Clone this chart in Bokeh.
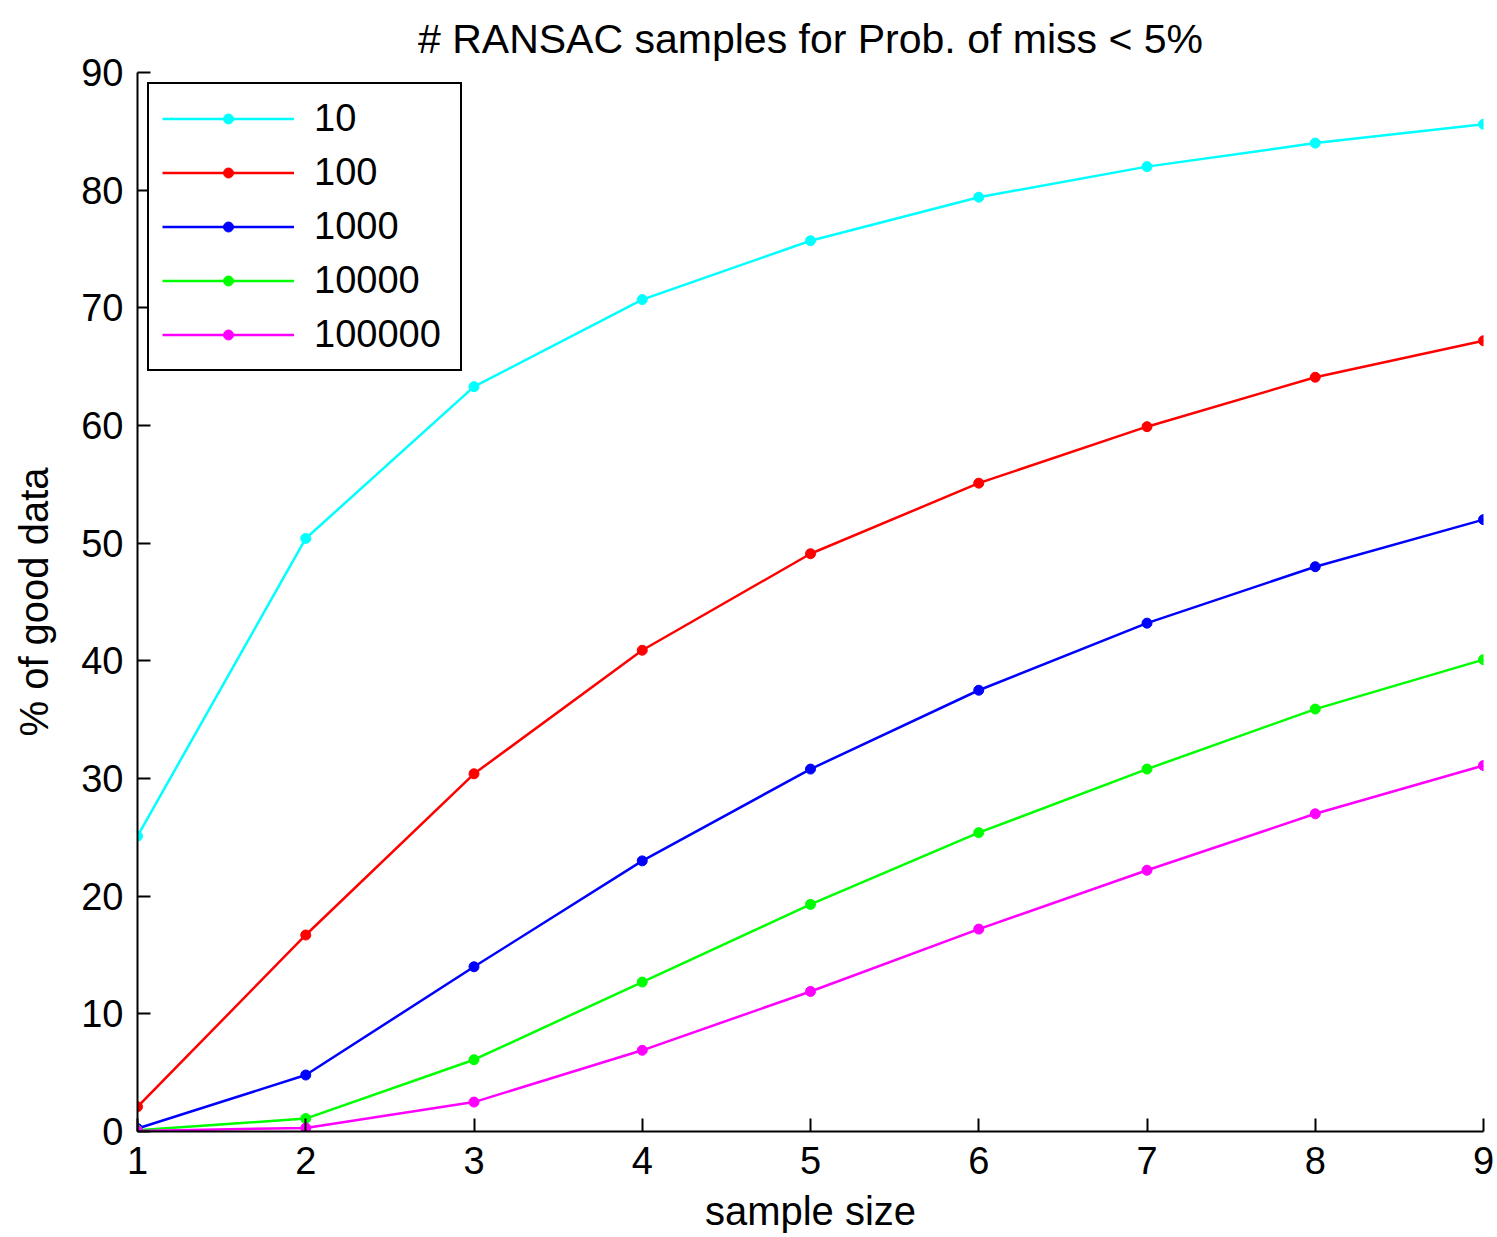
from bokeh.plotting import figure
from bokeh.models import Range1d, FixedTicker, Legend, LegendItem
from bokeh.embed import file_html
from bokeh.resources import INLINE

sample_size = [1, 2, 3, 4, 5, 6, 7, 8, 9]
series_names = ["10", "100", "1000", "10000", "100000"]
good_10 = [25.1, 50.4, 63.3, 70.7, 75.7, 79.4, 82.0, 84.0, 85.6]
good_100 = [2.1, 16.7, 30.4, 40.9, 49.1, 55.1, 59.9, 64.1, 67.2]
good_1000 = [0.25, 4.8, 14.0, 23.0, 30.8, 37.5, 43.2, 48.0, 52.0]
good_10000 = [0.1, 1.1, 6.1, 12.7, 19.3, 25.4, 30.8, 35.9, 40.1]
good_100000 = [0.05, 0.3, 2.5, 6.9, 11.9, 17.2, 22.2, 27.0, 31.1]
colors = ["#00FFFF", "#FF0000", "#0000FF", "#00FF00", "#FF00FF"]
x_ticks = [1, 2, 3, 4, 5, 6, 7, 8, 9]
y_ticks = [0, 10, 20, 30, 40, 50, 60, 70, 80, 90]

FONT = "Liberation Sans"

p = figure(width=1497, height=1237, output_backend="svg", toolbar_location=None,
           x_range=Range1d(1, 9), y_range=Range1d(0, 90),
           title="# RANSAC samples for Prob. of miss < 5%",
           min_border_left=137, min_border_right=14, min_border_top=72, min_border_bottom=106)

p.outline_line_color = None
p.xgrid.visible = False
p.ygrid.visible = False
p.background_fill_color = "white"
p.border_fill_color = "white"

p.title.text_font = FONT
p.title.text_font_size = "41px"
p.title.text_font_style = "normal"
p.title.align = "center"
p.title.text_color = "black"
p.title.offset = 0
p.title.standoff = 21

for ax in (p.xaxis[0], p.yaxis[0]):
    ax.axis_line_color = "black"
    ax.axis_line_width = 2
    ax.major_tick_line_color = "black"
    ax.major_tick_line_width = 2
    ax.major_tick_in = 13
    ax.major_tick_out = 0
    ax.minor_tick_line_color = None
    ax.major_label_text_font = FONT
    ax.major_label_text_font_size = "38px"
    ax.major_label_text_color = "black"
    ax.axis_label_text_font = FONT
    ax.axis_label_text_font_size = "40px"
    ax.axis_label_text_font_style = "normal"
    ax.axis_label_text_color = "black"

p.xaxis[0].ticker = FixedTicker(ticks=x_ticks)
p.yaxis[0].ticker = FixedTicker(ticks=y_ticks)
p.xaxis[0].axis_label = "sample size"
p.yaxis[0].axis_label = "% of good data"
p.xaxis[0].major_label_standoff = 15
p.yaxis[0].major_label_standoff = 14
p.xaxis[0].axis_label_standoff = 12
p.yaxis[0].axis_label_standoff = 22

series = [good_10, good_100, good_1000, good_10000, good_100000]
items = []
for name, vals, c in zip(series_names, series, colors):
    r1 = p.line(sample_size, vals, line_color=c, line_width=2.5)
    r2 = p.scatter(sample_size, vals, marker="circle", size=10, fill_color=c, line_color=c)
    items.append(LegendItem(label=name, renderers=[r1, r2]))

legend = Legend(items=items, location="top_left")
legend.margin = 10
legend.border_line_color = "black"
legend.border_line_alpha = 1
legend.border_line_width = 2
legend.background_fill_color = "white"
legend.background_fill_alpha = 1
legend.label_text_font = FONT
legend.label_text_font_size = "38px"
legend.label_text_color = "black"
legend.glyph_width = 132
legend.glyph_height = 25
legend.label_height = 40
legend.label_width = 133
legend.label_standoff = 20
legend.spacing = 11
legend.padding = 13
p.add_layout(legend, "center")

open("out.html", "w").write(file_html(p, INLINE))
